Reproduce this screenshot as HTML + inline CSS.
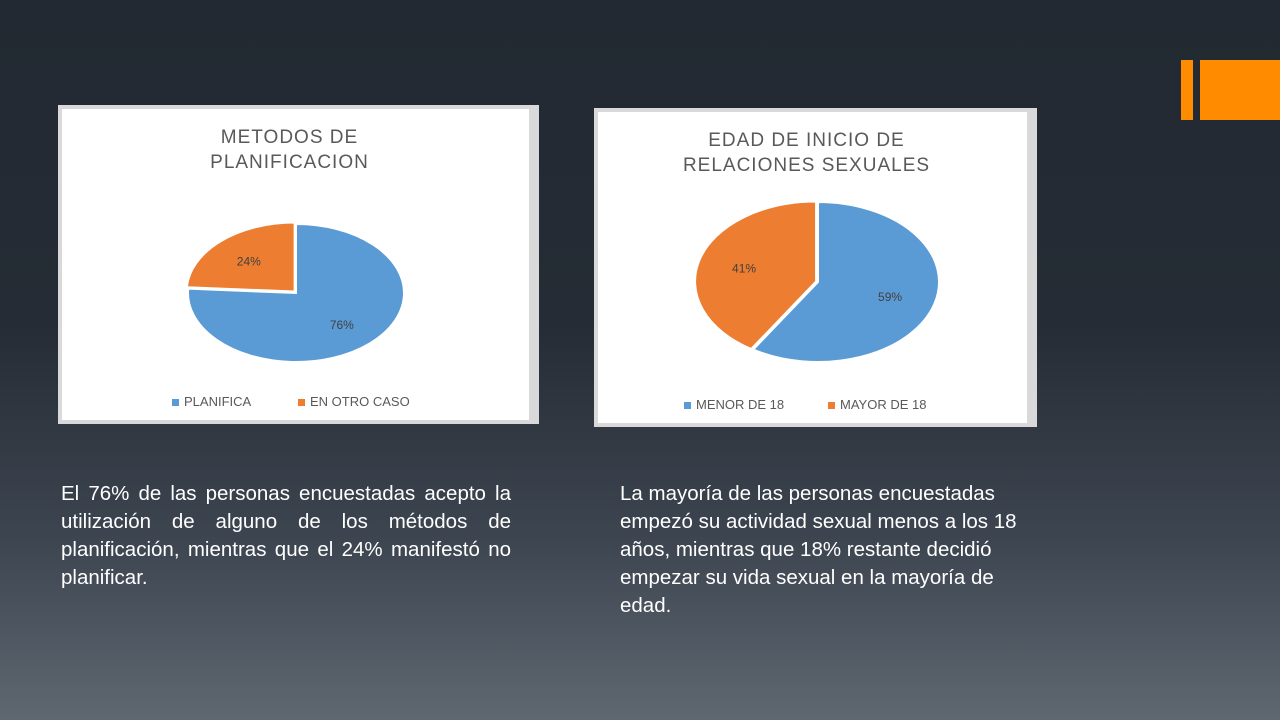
<!DOCTYPE html>
<html><head><meta charset="utf-8"><style>
body{margin:0;width:1280px;height:720px;overflow:hidden;background:linear-gradient(#222932 0%,#252c35 45%,#3d4550 75%,#5f6771 100%);font-family:"Liberation Sans",sans-serif;position:relative}
.card{position:absolute;background:#fff;border:4px solid #d9d9d9;border-right-width:10px;box-sizing:border-box}
.txt{position:absolute;color:#fff;font-size:20.5px;line-height:28px}
</style></head><body>
<div style="position:absolute;left:1181px;top:60px;width:12px;height:60px;background:#ff8c00"></div>
<div style="position:absolute;left:1200px;top:60px;width:80px;height:60px;background:#ff8c00"></div>
<div class="card" style="left:58px;top:105px;width:481px;height:319px"><svg id="c1" width="467" height="311"></svg></div>
<div class="card" style="left:594px;top:108px;width:443px;height:319px"><svg id="c2" width="429" height="311"></svg></div>
<div class="txt" style="left:61px;top:480px;width:450px;text-align:justify">El 76% de las personas encuestadas acepto la utilización de alguno de los métodos de planificación, mientras que el 24% manifestó no planificar.</div>
<div class="txt" style="left:620px;top:480px;width:410px">La mayoría de las personas encuestadas empezó su actividad sexual menos a los 18 años, mientras que 18% restante decidió empezar su vida sexual en la mayoría de edad.</div>
<script>
const labels1=["PLANIFICA","EN OTRO CASO"];
const values1=[76,24];
const labels2=["MENOR DE 18","MAYOR DE 18"];
const values2=[59,41];
const colors=["#5b9bd5","#ed7d31"];
const NS="http://www.w3.org/2000/svg";
function mk(t,a,p){const e=document.createElementNS(NS,t);for(const k in a)e.setAttribute(k,a[k]);p.appendChild(e);return e;}
function pie(svg,title,labels,values,cx,cy,rx,ry,legY,legX){
  const s=document.getElementById(svg);
  title.forEach((t,i)=>{const e=mk('text',{x:s.getAttribute('width')/2-6,y:34+i*25,'text-anchor':'middle','font-size':19,fill:'#595959','letter-spacing':'1'},s);e.textContent=t;
  
  });
  const tot=values.reduce((a,b)=>a+b,0);
  // first slice clockwise from top, second fills rest
  let start=0;
  values.forEach((v,i)=>{
    const a0=start/tot*2*Math.PI,a1=(start+v)/tot*2*Math.PI;start+=v;
    const mid=(a0+a1)/2;const off=i==1?2:0;
    const ox=cx+off*Math.sin(mid),oy=cy-off*Math.cos(mid);
    const x0=ox+rx*Math.sin(a0),y0=oy-ry*Math.cos(a0),x1=ox+rx*Math.sin(a1),y1=oy-ry*Math.cos(a1);
    const p=mk('path',{d:`M${ox},${oy}L${x0},${y0}A${rx},${ry} 0 ${a1-a0>Math.PI?1:0} 1 ${x1},${y1}Z`,fill:colors[i],stroke:'#fff','stroke-width':2},s);
    
    
    const t=mk('text',{x:ox+rx*0.62*Math.sin(mid),y:oy-ry*0.62*Math.cos(mid)+5,'text-anchor':'middle','font-size':12,fill:'#404040'},s);
    t.textContent=v+'%';
    
    
  });
  let x=legX;
  labels.forEach((l,i)=>{
    const r=mk('rect',{x:x,y:legY-7,width:7,height:7,fill:colors[i]},s);
    
    
    const t=mk('text',{x:x+12,y:legY,'font-size':13,fill:'#595959'},s);t.textContent=l;
    
    
    x+=l.length*9+45;
  });
}
pie('c1',["METODOS DE","PLANIFICACION"],labels1,values1,234,184,108,69,297,110);
pie('c2',["EDAD DE INICIO DE","RELACIONES SEXUALES"],labels2,values2,220,170,121,80,297,86);
</script>
</body></html>
